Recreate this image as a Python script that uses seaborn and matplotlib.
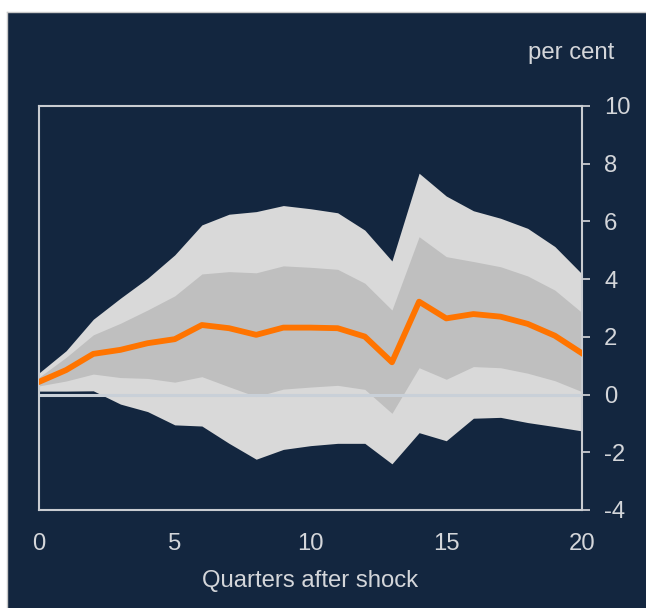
import numpy as np
import pandas as pd
import matplotlib
matplotlib.use("Agg")
import matplotlib.pyplot as plt
from matplotlib.patches import Rectangle
from matplotlib.lines import Line2D
import seaborn as sns

quarters = list(range(21))
median = [0.44, 0.85, 1.41, 1.55, 1.78, 1.92, 2.41, 2.30, 2.07, 2.32, 2.32,
          2.30, 2.01, 1.12, 3.22, 2.64, 2.79, 2.70, 2.45, 2.04, 1.43]
outer_upper = [0.75, 1.52, 2.61, 3.34, 4.03, 4.84, 5.88, 6.25, 6.34, 6.55, 6.44,
               6.30, 5.70, 4.63, 7.67, 6.88, 6.37, 6.11, 5.76, 5.13, 4.18]
inner_upper = [0.60, 1.29, 2.07, 2.47, 2.93, 3.42, 4.18, 4.26, 4.22, 4.46, 4.41,
               4.34, 3.86, 2.93, 5.47, 4.78, 4.61, 4.43, 4.11, 3.62, 2.84]
inner_lower = [0.30, 0.47, 0.71, 0.59, 0.56, 0.43, 0.62, 0.27, -0.07, 0.19, 0.26,
               0.32, 0.18, -0.65, 0.93, 0.53, 0.97, 0.93, 0.74, 0.48, 0.10]
outer_lower = [0.12, 0.12, 0.13, -0.33, -0.59, -1.05, -1.09, -1.69, -2.24, -1.90, -1.77,
               -1.69, -1.69, -2.40, -1.32, -1.60, -0.82, -0.79, -0.97, -1.11, -1.26]
x_ticks = [0, 5, 10, 15, 20]
y_ticks = [-4, -2, 0, 2, 4, 6, 8, 10]

df = pd.DataFrame({"q": quarters, "median": median})

NAVY = "#13263f"
TXT = "#d4d6da"
SPINE = "#c9ccd1"
FS = 17.2

plt.rcParams["font.family"] = ["Liberation Sans", "DejaVu Sans"]

fig = plt.figure(figsize=(6.46, 6.08), dpi=100)
fig.patch.set_facecolor("white")
x0 = 7 / 646
y1 = 1 - 12 / 608
fig.patches.append(Rectangle((x0, 0), 1 - x0, y1, transform=fig.transFigure,
                             facecolor=NAVY, edgecolor="none", zorder=-10))
fig.lines.append(Line2D([x0, x0], [0, y1], transform=fig.transFigure,
                        color="#c8c8c8", linewidth=1.0))
fig.lines.append(Line2D([x0, 1], [y1, y1], transform=fig.transFigure,
                        color="#c8c8c8", linewidth=1.0))

ax = fig.add_axes([39 / 646, 1 - 510 / 608, (582 - 39) / 646, (510 - 106) / 608])
ax.set_facecolor(NAVY)

ax.fill_between(quarters, outer_lower, outer_upper, color="#d9d9d9", linewidth=0, zorder=1)
ax.fill_between(quarters, inner_lower, inner_upper, color="#bfbfbf", linewidth=0, zorder=2)
ax.axhline(0, color="#c9d0d8", linewidth=2.2, zorder=3)
sns.lineplot(data=df, x="q", y="median", ax=ax, color="#ff7400", linewidth=4.2,
             zorder=4, legend=False)

ax.set_xlim(0, 20)
ax.set_ylim(-4, 10)
ax.set_xticks(x_ticks)
ax.set_xticklabels([str(v) for v in x_ticks])
ax.set_yticks(y_ticks)
ax.set_yticklabels([str(v) for v in y_ticks])

ax.yaxis.tick_right()
ax.tick_params(axis="y", which="both", left=False, right=True, labelleft=False,
               labelright=True, direction="out", length=6, width=1.3,
               color=SPINE, labelcolor=TXT, labelsize=FS, pad=10)
ax.tick_params(axis="x", bottom=False, top=False, labelcolor=TXT, labelsize=FS, pad=13)

for s in ax.spines.values():
    s.set_color(SPINE)
    s.set_linewidth(1.5)

ax.set_xlabel("Quarters after shock", color=TXT, fontsize=FS, labelpad=11)
ax.set_ylabel("")
ax.grid(False)

fig.text(614 / 646, 1 - 53 / 608, "per cent", color=TXT, fontsize=FS,
         ha="right", va="center")

fig.savefig("out.png", dpi=100, facecolor=fig.get_facecolor())
